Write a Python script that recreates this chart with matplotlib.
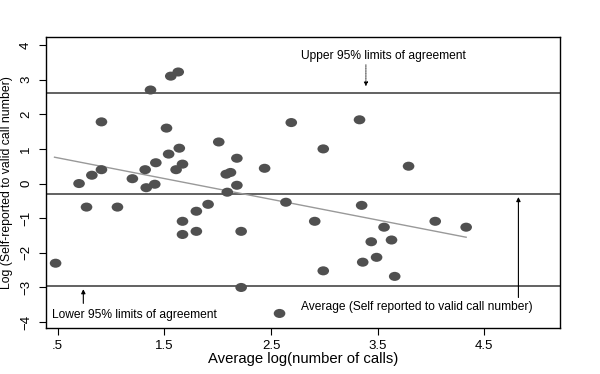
import matplotlib
matplotlib.use("Agg")
import matplotlib.pyplot as plt
import numpy as np
from matplotlib.path import Path
from matplotlib.transforms import Affine2D

plt.rcParams['font.family'] = ['Liberation Sans', 'DejaVu Sans']

avg_log_calls = [0.48, 0.70, 0.77, 0.82, 0.91, 0.91, 1.06, 1.20, 1.33, 1.37,
                 1.41, 1.32, 1.42, 1.52, 1.54, 1.56, 1.63, 1.64, 1.61, 1.67,
                 1.67, 1.67, 1.80, 1.80, 1.91, 2.01, 2.18, 2.08, 2.12, 2.18,
                 2.09, 2.22, 2.22, 2.44, 2.58, 2.64, 2.69, 2.91, 2.99, 2.99,
                 3.33, 3.35, 3.36, 3.44, 3.49, 3.56, 3.63, 3.66, 3.79, 4.04,
                 4.33]
log_ratio = [-2.30, 0.00, -0.68, 0.24, 1.78, 0.40, -0.68, 0.14, -0.12, 2.70,
             -0.02, 0.40, 0.60, 1.60, 0.85, 3.10, 3.22, 1.02, 0.40, 0.56,
             -1.09, -1.47, -0.80, -1.38, -0.60, 1.20, 0.73, 0.27, 0.32, -0.05,
             -0.25, -1.38, -3.00, 0.44, -3.75, -0.54, 1.76, -1.09, 1.00, -2.52,
             1.84, -0.63, -2.27, -1.68, -2.13, -1.26, -1.63, -2.68, 0.50, -1.09,
             -1.26]

upper_loa = 2.60
mean_diff = -0.29
lower_loa = -2.97
fit_x = [0.47, 4.33]
fit_y = [0.76, -1.55]

xticks = [0.5, 1.5, 2.5, 3.5, 4.5]
xticklabels = ['.5', '1.5', '2.5', '3.5', '4.5']
yticks = [-4, -3, -2, -1, 0, 1, 2, 3, 4]

fig = plt.figure(figsize=(6.0, 3.74), dpi=100)
ax = fig.add_axes([46/600, 1-328/374, (560-46)/600, (328-37)/374])

ell = Path.unit_circle().transformed(Affine2D().scale(1.0, 0.78))

ax.axhline(upper_loa, color='#555555', lw=1.3, zorder=1)
ax.axhline(mean_diff, color='#555555', lw=1.3, zorder=1)
ax.axhline(lower_loa, color='#555555', lw=1.3, zorder=1)
ax.plot(fit_x, fit_y, color='#999999', lw=1.0, zorder=2)
ax.scatter(avg_log_calls, log_ratio, marker=ell, s=70, color='#505050',
           edgecolors='none', zorder=3)

ax.set_xlim(0.39, 5.21)
ax.set_ylim(-4.17, 4.23)
ax.set_xticks(xticks)
ax.set_xticklabels(xticklabels)
ax.set_yticks(yticks)
ax.tick_params(axis='both', direction='out', length=5, width=0.8, labelsize=9.5)
ax.tick_params(axis='y', pad=5)
for lab in ax.get_yticklabels():
    lab.set_rotation(90)
    lab.set_va('center')
for s in ax.spines.values():
    s.set_linewidth(1.0)

ax.set_xlabel('Average log(number of calls)', fontsize=10.7, labelpad=0)
ax.set_ylabel('Log (Self-reported to valid call number)', fontsize=8.8, labelpad=5)

fs = 8.65
ax.text(3.39 - 0.61, 3.68, 'Upper 95% limits of agreement', fontsize=fs,
        ha='left', va='center')
ax.annotate('', xy=(3.39, 2.73), xytext=(3.39, 3.51),
            arrowprops=dict(arrowstyle='-|>', color='black', lw=0.6,
                            linestyle=(0, (1, 1)), mutation_scale=6))
ax.text(0.445, -3.80, 'Lower 95% limits of agreement', fontsize=fs,
        ha='left', va='center')
ax.annotate('', xy=(0.74, -2.97), xytext=(0.74, -3.54),
            arrowprops=dict(arrowstyle='-|>', color='black', lw=0.8,
                            mutation_scale=6))
ax.text(4.95, -3.57, 'Average (Self reported to valid call number)', fontsize=fs,
        ha='right', va='center')
ax.annotate('', xy=(4.82, -0.31), xytext=(4.82, -3.37),
            arrowprops=dict(arrowstyle='-|>', color='black', lw=0.8,
                            mutation_scale=6))

fig.savefig('out.png', dpi=100)
